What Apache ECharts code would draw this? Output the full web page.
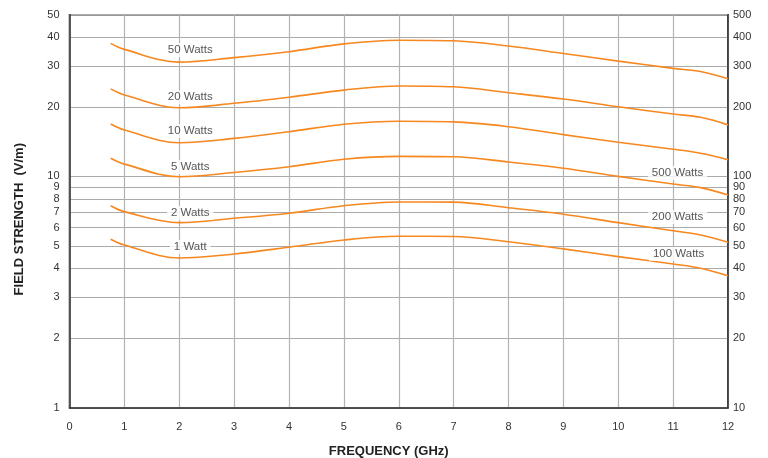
<!DOCTYPE html>
<html>
<head>
<meta charset="utf-8">
<script src="https://cdn.jsdelivr.net/npm/echarts@6/dist/echarts.min.js"></script>
<style>
  html, body { margin: 0; padding: 0; background: #fff; }
  #chart { width: 768px; height: 458px; }
</style>
</head>
<body>
<div id="chart"></div>
<script>
// Frequency points (GHz) shared by every curve
const freq = [0.75, 1, 2, 3, 4, 5, 6, 7, 8, 9, 10, 11, 11.5, 12];

// Field strength (V/m) for each input power
const watts1   = [5.35, 5.05, 4.44, 4.62, 4.94, 5.31, 5.51, 5.50, 5.22, 4.86, 4.50, 4.18, 4.01, 3.72];
const watts2   = [7.47, 7.04, 6.31, 6.59, 6.93, 7.47, 7.75, 7.74, 7.32, 6.86, 6.31, 5.82, 5.58, 5.19];
const watts5   = [11.98, 11.3, 9.97, 10.4, 11.0, 11.86, 12.2, 12.15, 11.54, 10.84, 10.0, 9.27, 8.94, 8.31];
const watts10  = [16.85, 15.87, 13.98, 14.6, 15.6, 16.8, 17.3, 17.2, 16.4, 15.15, 14.04, 13.1, 12.59, 11.8];
const watts20  = [23.9, 22.5, 19.8, 20.7, 22.0, 23.6, 24.6, 24.4, 23.0, 21.6, 20.0, 18.6, 18.0, 16.7];
const watts50  = [37.6, 35.4, 31.2, 32.6, 34.6, 37.4, 38.8, 38.6, 36.6, 34.0, 31.5, 29.3, 28.4, 26.4];

// Axis tick labels
const xTicks     = [0, 1, 2, 3, 4, 5, 6, 7, 8, 9, 10, 11, 12];
const leftTicks  = [1, 2, 3, 4, 5, 6, 7, 8, 9, 10, 20, 30, 40, 50];
const rightTicks = [10, 20, 30, 40, 50, 60, 70, 80, 90, 100, 200, 300, 400, 500];

// Curve captions: text and where they sit (frequency, field strength)
const captionText = ['50 Watts', '20 Watts', '10 Watts', '5 Watts', '2 Watts', '1 Watt',
                     '500 Watts', '200 Watts', '100 Watts'];
const captionAt = [[2.2, 35.2], [2.2, 22.0], [2.2, 15.7], [2.2, 10.98], [2.2, 6.95], [2.2, 4.95],
                   [11.08, 10.34], [11.08, 6.67], [11.1, 4.62]];

const ORANGE = '#F7871F';
const FONT = '"Liberation Sans", Arial, Helvetica, sans-serif';

function curve(values) {
  return {
    type: 'line',
    smooth: 0.35,
    symbol: 'none',
    lineStyle: { color: ORANGE, width: 1.6 },
    data: freq.map((f, i) => [f, values[i]]),
    z: 3
  };
}

const chart = echarts.init(document.getElementById('chart'), null, { renderer: 'canvas' });

chart.setOption({
  animation: false,
  textStyle: { fontFamily: FONT },
  grid: {
    left: 69.5, right: 40, top: 14.7, bottom: 50.3,
    containLabel: false, outerBoundsMode: 'none',
    show: true, borderColor: '#333', borderWidth: 1.5, backgroundColor: 'transparent'
  },
  xAxis: {
    type: 'value', min: 0, max: 12, interval: 1,
    name: 'FREQUENCY (GHz)', nameLocation: 'middle', nameGap: 37,
    nameTextStyle: { fontFamily: FONT, fontWeight: 'bold', fontSize: 13, color: '#222', padding: [0, 20, 0, 0] },
    axisLine: { show: true, lineStyle: { color: '#333', width: 1.5 } },
    axisTick: { show: false },
    axisLabel: { color: '#333', fontSize: 11, margin: 14, fontFamily: FONT,
                 formatter: v => xTicks.indexOf(v) >= 0 ? String(v) : '' },
    splitLine: { show: true, lineStyle: { color: '#b3b3b3', width: 1.2 } }
  },
  yAxis: [
    {
      type: 'log', logBase: 10, min: 1, max: 50,
      name: 'FIELD STRENGTH  (V/m)', nameLocation: 'middle', nameGap: 44,
      nameTextStyle: { fontFamily: FONT, fontWeight: 'bold', fontSize: 13, color: '#222', padding: [0, 0, 0, -16] },
      axisLine: { show: true, lineStyle: { color: '#333', width: 1.5 } },
      axisTick: { show: false, customValues: leftTicks },
      axisLabel: { customValues: leftTicks, color: '#333', fontSize: 11, margin: 10, fontFamily: FONT },
      splitLine: { show: true, lineStyle: { color: '#aaaaaa', width: 1.2 } },
      minorTick: { show: false }, minorSplitLine: { show: false }
    },
    {
      type: 'log', logBase: 10, min: 10, max: 500, position: 'right',
      axisLine: { show: true, lineStyle: { color: '#333', width: 1.5 } },
      axisTick: { show: false, customValues: rightTicks },
      axisLabel: { customValues: rightTicks, color: '#333', fontSize: 11, margin: 5, fontFamily: FONT },
      splitLine: { show: false }
    }
  ],
  series: [
    curve(watts50), curve(watts20), curve(watts10), curve(watts5), curve(watts2), curve(watts1),
    {
      type: 'scatter',
      symbolSize: 1,
      itemStyle: { color: 'rgba(0,0,0,0)' },
      z: 5,
      data: captionAt.map((p, i) => ({ value: p, name: captionText[i] })),
      label: {
        show: true, position: 'inside', formatter: p => p.name,
        color: '#2a2a2a', fontSize: 11.5, fontFamily: FONT,
        backgroundColor: '#fff', padding: [1, 4]
      },
      labelLayout: { hideOverlap: false }
    }
  ]
});
</script>
</body>
</html>
